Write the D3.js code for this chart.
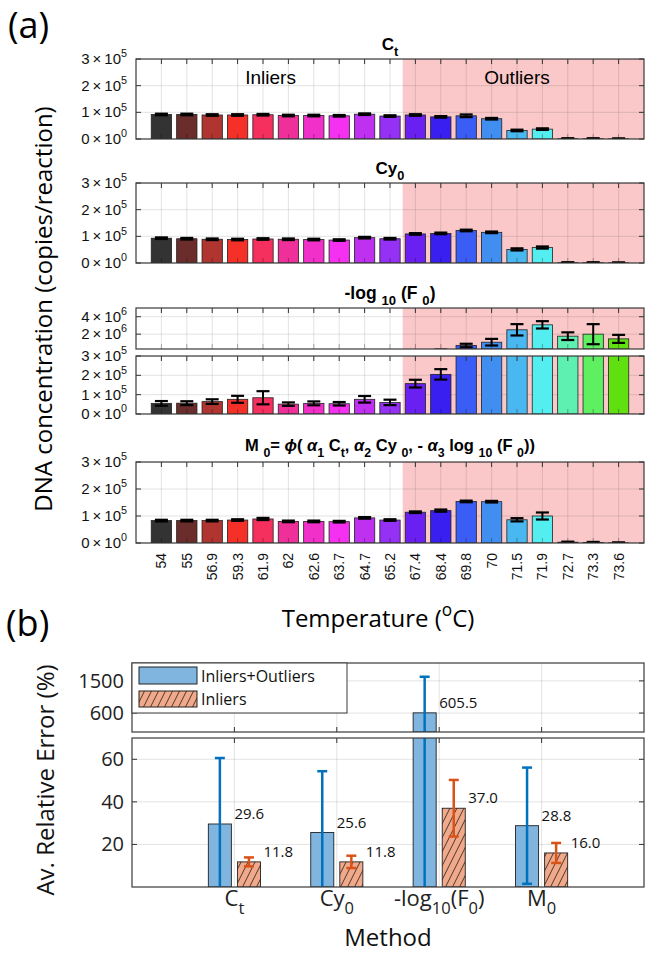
<!DOCTYPE html>
<html><head><meta charset="utf-8">
<script src="https://cdn.jsdelivr.net/npm/d3@7/dist/d3.min.js"></script>
<style>body{margin:0;background:#fff}svg{display:block}</style>
</head><body>
<svg id="c" width="646" height="955"></svg>
<script>
// ---------------- DATA ----------------
const temps = ["54","55","56.9","59.3","61.9","62","62.6","63.7","64.7","65.2","67.4","68.4","69.8","70","71.5","71.9","72.7","73.3","73.6"];
const barColors = ["#333333","#6b2c2c","#b03530","#f53028","#f5305f","#f0309a","#f030c8","#f530f0","#c030f0","#9530f5","#6a20f0","#3a20f0","#3a5ef5","#3f8ef0","#4ab8f0","#55eef0","#5ef0b0","#5ef060","#60e010"];
const ctVals  = [0.92,0.92,0.90,0.90,0.91,0.88,0.88,0.87,0.93,0.86,0.90,0.83,0.87,0.76,0.32,0.37,0.01,0.01,0.005].map(v=>v*1e5);
const ctErr   = [0.03,0.03,0.03,0.03,0.03,0.03,0.03,0.03,0.03,0.03,0.03,0.03,0.05,0.03,0.03,0.03,0.02,0.02,0.02].map(v=>v*1e5);
const cy0Vals = [0.93,0.91,0.89,0.88,0.90,0.89,0.88,0.86,0.95,0.91,1.09,1.11,1.22,1.15,0.51,0.58,0.01,0.01,0.005].map(v=>v*1e5);
const cy0Err  = [0.03,0.03,0.03,0.03,0.03,0.03,0.03,0.03,0.03,0.03,0.03,0.03,0.03,0.03,0.04,0.04,0.02,0.02,0.02].map(v=>v*1e5);
const logVals = [0.55e5,0.56e5,0.64e5,0.76e5,0.84e5,0.51e5,0.55e5,0.53e5,0.76e5,0.60e5,1.57e5,2.05e5,0.70e6,1.08e6,2.50e6,3.07e6,1.77e6,2.00e6,1.46e6];
const logErr  = [0.12e5,0.10e5,0.12e5,0.18e5,0.34e5,0.09e5,0.10e5,0.09e5,0.17e5,0.14e5,0.20e5,0.27e5,0.2e6,0.38e6,0.65e6,0.42e6,0.44e6,1.15e6,0.46e6];
const m0Vals  = [0.83,0.83,0.83,0.85,0.89,0.80,0.80,0.79,0.93,0.85,1.14,1.20,1.54,1.53,0.86,1.00,0.03,0.02,0.005].map(v=>v*1e5);
const m0Err   = [0.03,0.03,0.03,0.03,0.04,0.03,0.03,0.03,0.03,0.03,0.03,0.04,0.03,0.03,0.06,0.13,0.02,0.02,0.02].map(v=>v*1e5);
const outlierStart = 10.5;

const methods = ["Ct","Cy0","-log10(F0)","M0"];
const allVals = [29.6,25.6,605.5,28.8];
const allErr  = [31.0,28.8,1010,27.3];
const inVals  = [11.8,11.8,37.0,16.0];
const inErr   = [2.1,2.9,13.3,4.7];
const seriesNames = ["Inliers+Outliers","Inliers"];

// ---------------- HELPERS ----------------
const svg = d3.select("#c");
svg.append("rect").attr("width",646).attr("height",955).attr("fill","#fff");
const defs = svg.append("defs");

function rich(g, x, y, segs, opt){
  const t = g.append("text").attr("x",x).attr("y",y)
    .attr("font-family",opt.family).attr("font-size",opt.size)
    .attr("font-weight",opt.weight||"normal").attr("text-anchor",opt.anchor||"start")
    .attr("fill",opt.fill||"#000");
  if(opt.transform) t.attr("transform",opt.transform);
  let shift = 0;
  segs.forEach(s=>{
    const sp = t.append("tspan").text(s.t);
    let target = 0, fs = opt.size;
    if(s.sub){ target = opt.size*0.35; fs = opt.size*0.75; }
    if(s.sup){ target = -opt.size*0.45; fs = opt.size*0.72; }
    sp.attr("font-size",fs).attr("dy",target-shift);
    if(s.it) sp.attr("font-style","italic");
    shift = target;
  });
  return t;
}
function sciSegs(v){
  if(v===0) return [{t:"0\u2009\u00d7\u200910"},{t:"0",sup:true}];
  const e = Math.floor(Math.log10(v)+1e-9), m = Math.round(v/Math.pow(10,e));
  return [{t:m+"\u2009\u00d7\u200910"},{t:String(e),sup:true}];
}

// ---------------- PANEL (a) ----------------
const xA = d3.scaleLinear().domain([0,20]).range([136,644]);
const idx = d3.range(1,20);
const bw = xA(0.8)-xA(0);
const tickFont = "Liberation Sans, Arial, sans-serif";

function drawAxes(g, y, ticks){
  const top = y.range()[1], bot = y.range()[0], L = xA.range()[0], R = xA.range()[1];
  const cid = "clip"+Math.random().toString(36).slice(2);
  defs.append("clipPath").attr("id",cid).append("rect").attr("x",L).attr("y",top).attr("width",R-L).attr("height",bot-top);
  const inner = g.append("g").attr("clip-path",`url(#${cid})`);
  inner.append("rect").attr("x",xA(outlierStart)).attr("y",top).attr("width",R-xA(outlierStart)).attr("height",bot-top).attr("fill","#fac8c8");
  inner.selectAll(".gv").data(idx).enter().append("line")
    .attr("x1",d=>xA(d)).attr("x2",d=>xA(d)).attr("y1",top).attr("y2",bot)
    .attr("stroke","rgba(38,38,38,0.13)").attr("stroke-width",1);
  inner.selectAll(".gh").data(ticks).enter().append("line")
    .attr("x1",L).attr("x2",R).attr("y1",d=>y(d)).attr("y2",d=>y(d))
    .attr("stroke","rgba(38,38,38,0.13)").attr("stroke-width",1);
  return inner;
}
function drawBars(inner, y, vals, base){
  inner.selectAll(".b").data(vals).enter().append("rect")
    .attr("x",(d,i)=>xA(idx[i])-bw/2).attr("width",bw)
    .attr("y",d=>y(Math.max(d,base))).attr("height",d=>Math.max(0,y(base)-y(Math.max(d,base))))
    .attr("fill",(d,i)=>barColors[i]).attr("stroke","#222").attr("stroke-width",0.8);
}
function drawErr(inner, y, vals, errs){
  vals.forEach((v,i)=>{
    const cx = xA(idx[i]), lo = v-errs[i], hi = v+errs[i];
    inner.append("line").attr("x1",cx).attr("x2",cx).attr("y1",y(lo)).attr("y2",y(hi)).attr("stroke","#000").attr("stroke-width",2);
    [lo,hi].forEach(e=>inner.append("line").attr("x1",cx-6.5).attr("x2",cx+6.5).attr("y1",y(e)).attr("y2",y(e)).attr("stroke","#000").attr("stroke-width",2.2));
  });
}
function drawFrame(g, y, ticks){
  const top = y.range()[1], bot = y.range()[0], L = xA.range()[0], R = xA.range()[1];
  idx.forEach(d=>{
    g.append("line").attr("x1",xA(d)).attr("x2",xA(d)).attr("y1",top).attr("y2",top+5).attr("stroke","#333").attr("stroke-width",1);
    g.append("line").attr("x1",xA(d)).attr("x2",xA(d)).attr("y1",bot).attr("y2",bot-5).attr("stroke","rgba(0,0,0,0.3)").attr("stroke-width",1);
  });
  ticks.forEach(t=>{
    g.append("line").attr("x1",L).attr("x2",L+5).attr("y1",y(t)).attr("y2",y(t)).attr("stroke","#333");
    g.append("line").attr("x1",R).attr("x2",R-5).attr("y1",y(t)).attr("y2",y(t)).attr("stroke","#333");
    rich(g, 127, y(t)+5, sciSegs(t), {family:tickFont,size:15,anchor:"end",fill:"#111"});
  });
  g.append("rect").attr("x",L).attr("y",top).attr("width",R-L).attr("height",bot-top).attr("fill","none").attr("stroke","#3a3a3a").attr("stroke-width",1.2);
}
function title(g, y, segs, size){
  rich(g, (xA.range()[0]+xA.range()[1])/2, y, segs, {family:"Liberation Sans, Arial, sans-serif",size:size||17,weight:"bold",anchor:"middle"});
}

const gA = svg.append("g");
const ticks5 = [0,1e5,2e5,3e5];
function simplePanel(top, bot, vals, errs, segs, titleY, tsize){
  const y = d3.scaleLinear().domain([0,3e5]).range([bot,top]);
  const g = gA.append("g");
  const inner = drawAxes(g, y, ticks5);
  drawBars(inner, y, vals, 0);
  drawErr(inner, y, vals, errs);
  drawFrame(g, y, ticks5);
  title(g, titleY, segs, tsize);
  return {g,y};
}
const pCt = simplePanel(59,139, ctVals, ctErr, [{t:"C"},{t:"t",sub:true}], 50);
gA.append("text").attr("x",xA(5.3)).attr("y",pCt.y(2.05e5)).attr("text-anchor","middle").attr("font-family",tickFont).attr("font-size",19).text("Inliers");
gA.append("text").attr("x",xA(15.0)).attr("y",pCt.y(2.05e5)).attr("text-anchor","middle").attr("font-family",tickFont).attr("font-size",19).text("Outliers");
simplePanel(183,263, cy0Vals, cy0Err, [{t:"Cy"},{t:"0",sub:true}], 174);

// broken -log10(F0) panel
{
  const g = gA.append("g");
  const yU = d3.scaleLinear().domain([3e5,5e6]).range([349,308]);
  const yL = d3.scaleLinear().domain([0,3e5]).range([414,356]);
  const tU = [2e6,4e6];
  const iU = drawAxes(g, yU, tU);
  drawBars(iU, yU, logVals, 3e5);
  drawErr(iU, yU, logVals, logErr);
  drawFrame(g, yU, tU);
  const iL = drawAxes(g, yL, ticks5);
  drawBars(iL, yL, logVals, 0);
  drawErr(iL, yL, logVals, logErr);
  drawFrame(g, yL, ticks5);
  title(g, 299, [{t:"-log "},{t:"10",sub:true},{t:" (F "},{t:"0",sub:true},{t:")"}], 17.5);
}
simplePanel(462,543, m0Vals, m0Err, [{t:"M "},{t:"0",sub:true},{t:"=  "},{t:"\u03d5",it:true},{t:"( "},{t:"\u03b1",it:true},{t:"1",sub:true},{t:" C"},{t:"t",sub:true},{t:",  "},{t:"\u03b1",it:true},{t:"2",sub:true},{t:" Cy "},{t:"0",sub:true},{t:", - "},{t:"\u03b1",it:true},{t:"3",sub:true},{t:" log "},{t:"10",sub:true},{t:" (F "},{t:"0",sub:true},{t:"))"}], 451, 16.5);

// temperature tick labels
temps.forEach((t,i)=>{
  gA.append("text").attr("transform",`translate(${xA(idx[i])+5},553) rotate(-90)`)
    .attr("text-anchor","end").attr("font-family",tickFont).attr("font-size",14).attr("fill","#111").text(t);
});
const labFont = "Open Sans, sans-serif";
rich(gA, 378, 627, [{t:"Temperature ("},{t:"o",sup:true},{t:"C)"}], {family:labFont,size:24,anchor:"middle"});
gA.append("text").attr("transform","translate(52,309) rotate(-90)").attr("text-anchor","middle")
  .attr("font-family",labFont).attr("font-size",24).text("DNA concentration (copies/reaction)");
gA.append("text").attr("x",8).attr("y",38).attr("font-family",labFont).attr("font-size",36).text("(a)");
gA.append("text").attr("x",6).attr("y",636).attr("font-family",labFont).attr("font-size",36).text("(b)");

// ---------------- PANEL (b) ----------------
const gB = svg.append("g");
const xB = d3.scaleLinear().domain([0,5]).range([132,644]);
const yBU = d3.scaleLinear().domain([70,2000]).range([732,663]);
const yBL = d3.scaleLinear().domain([0,70]).range([887,738]);
const cats = d3.range(1,5);
const off = 0.142, bwB = xB(0.225)-xB(0);
const blue = "#7fb5df", orange = "#f0a98a", blueL = "#0072bd", orangeL = "#d95319";

const pat = defs.append("pattern").attr("id","hatch").attr("patternUnits","userSpaceOnUse").attr("width",7).attr("height",14);
pat.append("rect").attr("width",7).attr("height",14).attr("fill",orange);
[[0,14,7,0],[-7,14,0,0],[7,14,14,0]].forEach(([a,b,c,d])=>pat.append("line").attr("x1",a).attr("y1",b).attr("x2",c).attr("y2",d).attr("stroke","#3a2a22").attr("stroke-width",0.9));

function boxB(y, ticks, topTicks, botTicks){
  const top = y.range()[1], bot = y.range()[0], L = xB.range()[0], R = xB.range()[1];
  const cid = "clipB"+Math.random().toString(36).slice(2);
  defs.append("clipPath").attr("id",cid).append("rect").attr("x",L).attr("y",top).attr("width",R-L).attr("height",bot-top);
  const inner = gB.append("g").attr("clip-path",`url(#${cid})`);
  cats.forEach(c=>inner.append("line").attr("x1",xB(c)).attr("x2",xB(c)).attr("y1",top).attr("y2",bot).attr("stroke","rgba(38,38,38,0.13)"));
  ticks.forEach(t=>inner.append("line").attr("x1",L).attr("x2",R).attr("y1",y(t)).attr("y2",y(t)).attr("stroke","rgba(38,38,38,0.13)"));
  const dom = y.domain();
  const base = dom[0];
  [[allVals,-off,blue],[inVals,off,"url(#hatch)"]].forEach(([vals,o,fill])=>{
    vals.forEach((v,i)=>{
      if(v>base){
        const yt = y(Math.min(v,dom[1]*3));
        inner.append("rect").attr("x",xB(cats[i]+o)-bwB/2).attr("width",bwB).attr("y",yt).attr("height",y(base)-yt)
          .attr("fill",fill).attr("stroke","#222").attr("stroke-width",0.9);
      }
    });
  });
  [[allVals,allErr,-off,blueL],[inVals,inErr,off,orangeL]].forEach(([vals,errs,o,lc])=>{
    vals.forEach((v,i)=>{
      const cx = xB(cats[i]+o), lo = v-errs[i], hi = v+errs[i];
      if(hi<dom[0]||lo>dom[1]) return;
      const a = Math.max(lo,dom[0]-100), b = Math.min(hi,dom[1]+100);
      inner.append("line").attr("x1",cx).attr("x2",cx).attr("y1",y(a)).attr("y2",y(b)).attr("stroke",lc).attr("stroke-width",2.5);
      [lo,hi].forEach(e=>{ if(e>=dom[0]&&e<=dom[1]) inner.append("line").attr("x1",cx-5).attr("x2",cx+5).attr("y1",y(e)).attr("y2",y(e)).attr("stroke",lc).attr("stroke-width",2.5); });
    });
  });
  [[allVals,-off],[inVals,off]].forEach(([vals,o])=>{
    vals.forEach((v,i)=>{
      if(v>=dom[0]&&v<=dom[1])
        gB.append("text").attr("x",xB(cats[i]+o)+bwB/2+3).attr("y",y(v)-5).attr("font-family",labFont).attr("font-size",15).attr("fill","#111").text(v.toFixed(1));
    });
  });
  cats.forEach(c=>{
    if(topTicks) gB.append("line").attr("x1",xB(c)).attr("x2",xB(c)).attr("y1",top).attr("y2",top+5).attr("stroke","#333");
    if(botTicks) gB.append("line").attr("x1",xB(c)).attr("x2",xB(c)).attr("y1",bot).attr("y2",bot-5).attr("stroke","#333");
  });
  ticks.forEach(t=>{
    gB.append("line").attr("x1",L).attr("x2",L+5).attr("y1",y(t)).attr("y2",y(t)).attr("stroke","#333");
    gB.append("line").attr("x1",R).attr("x2",R-5).attr("y1",y(t)).attr("y2",y(t)).attr("stroke","#333");
    gB.append("text").attr("x",124).attr("y",y(t)+7).attr("text-anchor","end").attr("font-family",labFont).attr("font-size",20).attr("fill","#222").text(t);
  });
  gB.append("rect").attr("x",L).attr("y",top).attr("width",R-L).attr("height",bot-top).attr("fill","none").attr("stroke","#3a3a3a").attr("stroke-width",1.2);
}
boxB(yBU, [600,1500], false, true);
boxB(yBL, [20,40,60], true, false);

// legend
{
  const lg = gB.append("g");
  lg.append("rect").attr("x",132).attr("y",663).attr("width",215).attr("height",50).attr("fill","#fff").attr("stroke","#3a3a3a").attr("stroke-width",1);
  lg.append("rect").attr("x",139).attr("y",667).attr("width",58).attr("height",17).attr("fill",blue).attr("stroke","#222");
  lg.append("rect").attr("x",139).attr("y",691).attr("width",58).attr("height",16).attr("fill","url(#hatch)").attr("stroke","#222");
  lg.append("text").attr("x",201).attr("y",681.5).attr("font-family",labFont).attr("font-size",16).attr("fill","#111").text(seriesNames[0]);
  lg.append("text").attr("x",201).attr("y",705).attr("font-family",labFont).attr("font-size",16).attr("fill","#111").text(seriesNames[1]);
}
const catSegs = [[{t:"C"},{t:"t",sub:true}],[{t:"Cy"},{t:"0",sub:true}],[{t:"-log"},{t:"10",sub:true},{t:"(F"},{t:"0",sub:true},{t:")"}],[{t:"M"},{t:"0",sub:true}]];
catSegs.forEach((s,i)=>rich(gB, xB(cats[i]), 906, s, {family:labFont,size:22,anchor:"middle",fill:"#222"}));
gB.append("text").attr("x",xB(2.5)).attr("y",946).attr("text-anchor","middle").attr("font-family",labFont).attr("font-size",24).attr("fill","#111").text("Method");
gB.append("text").attr("transform","translate(54,780) rotate(-90)").attr("text-anchor","middle").attr("font-family",labFont).attr("font-size",24).attr("fill","#111").text("Av. Relative Error (%)");
</script>
</body></html>
